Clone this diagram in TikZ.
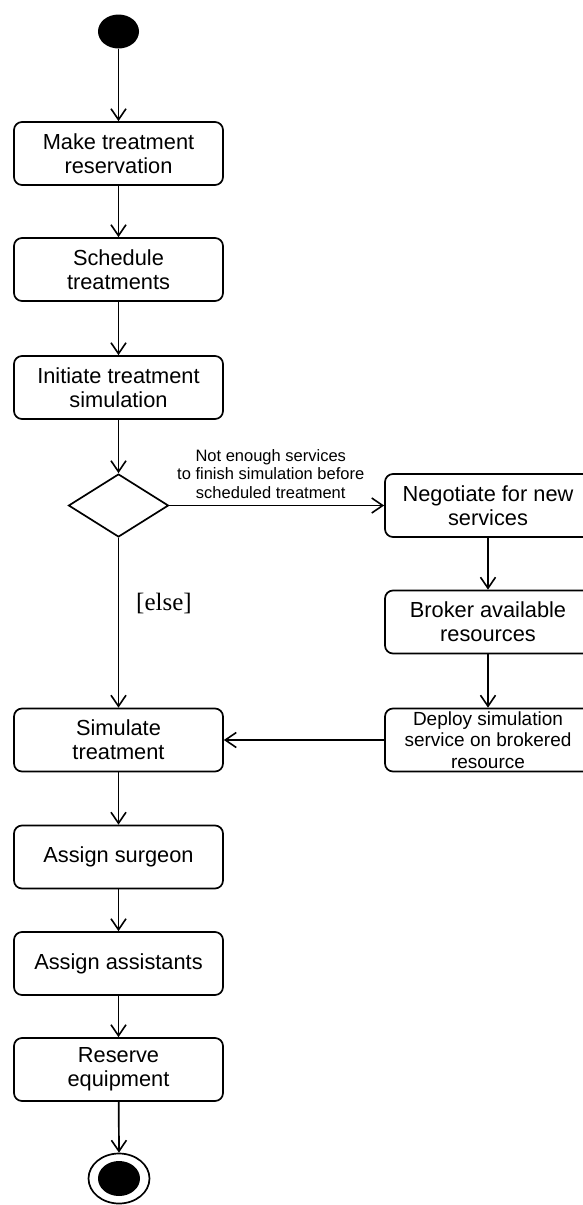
\documentclass[tikz,border=0pt]{standalone}
\usepackage{fontspec}
\setmainfont{Liberation Sans}
\newfontfamily\serifrm{Liberation Serif}
\usetikzlibrary{arrows.meta,shapes.geometric}
\begin{document}
\begin{tikzpicture}[x=1pt,y=-1pt,
  line width=1.7pt,
  act/.style={draw, rounded corners=8pt, minimum width=209pt, minimum height=63pt, inner sep=0pt, align=center, font=\fontsize{21.8}{24}\selectfont},
  ract/.style={act, minimum width=206pt},
  flow/.style={-{Straight Barb[length=11pt,width=15pt,line width=1.6pt]}},
  initnode/.style={ellipse, fill=black, minimum width=41pt, minimum height=34pt, inner sep=0pt},
  decision/.style={draw, diamond, minimum width=100pt, minimum height=63pt, inner sep=0pt}
]
\useasboundingbox (0,0) rectangle (583,1205);
\clip (0,0) rectangle (583,1205);

\node[initnode] (start) at (118.5,31.5) {};
\node[act] (mtr) at (118.5,153.5) {Make treatment\\reservation};
\node[act] (st) at (118.5,269.5) {Schedule\\treatments};
\node[act] (its) at (118.5,387.5) {Initiate treatment\\simulation};
\node[decision] (dec) at (118.5,505.5) {};
\node[ract] (neg) at (488,505.5) {Negotiate for new\\services};
\node[ract] (bro) at (488,622) {Broker available\\resources};
\node[ract, font=\fontsize{19}{21.5}\selectfont] (dep) at (488,740) {Deploy simulation\\service on brokered\\resource};
\node[act] (sim) at (118.5,740) {Simulate\\treatment};
\node[act] (sur) at (118.5,857) {Assign surgeon};
\node[act] (ass) at (118.5,963.5) {Assign assistants};
\node[act] (res) at (118.5,1069.5) {Reserve\\equipment};
\node[draw, ellipse, minimum width=61pt, minimum height=50pt, inner sep=0pt] (endo) at (119,1178.5) {};
\node[ellipse, fill=black, minimum width=42pt, minimum height=35pt, inner sep=0pt] (endi) at (119,1178.5) {};

\node[font=\serifrm\fontsize{25}{28}\selectfont] (else) at (164,603) {[else]};

\draw[flow] (start) -- (mtr);
\draw[flow] (mtr) -- (st);
\draw[flow] (st) -- (its);
\draw[flow] (its) -- (dec.north);
\draw[flow] (dec.east) -- node[above=3pt, xshift=-6pt, align=center, font=\fontsize{16.5}{18.5}\selectfont] (lbl) {Not enough services\\to finish simulation before\\scheduled treatment} (neg.west |- dec.east);
\draw[flow] (neg) -- (bro);
\draw[flow] (bro) -- (dep);
\draw[flow] (dep.west) -- (sim.east);
\draw[flow] (dec.south) -- (sim.north);
\draw[flow] (sim) -- (sur);
\draw[flow] (sur) -- (ass);
\draw[flow] (ass) -- (res);
\draw[flow] (res) -- (endo.north);
\end{tikzpicture}
\end{document}
